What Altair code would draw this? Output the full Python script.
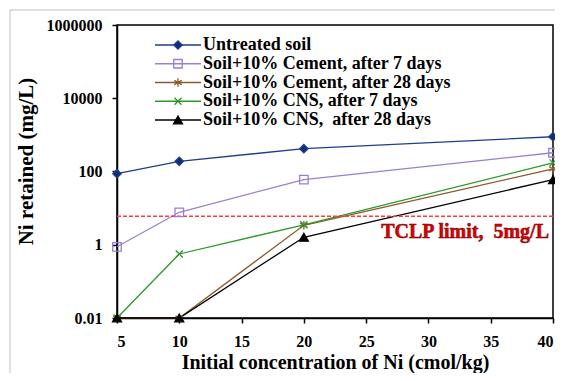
import altair as alt
import pandas as pd

x_vals = [5, 10, 20, 40]
series = [
    "Untreated soil",
    "Soil+10% Cement, after 7 days",
    "Soil+10% Cement, after 28 days",
    "Soil+10% CNS, after 7 days",
    "Soil+10% CNS,\u00a0 after 28 days",
]
untreated = [87, 190, 420, 890]
cement_7 = [0.88, 7.7, 60, 325]
cement_28 = [0.01, 0.01, 3.4, 118]
cns_7 = [0.01, 0.56, 3.5, 172]
cns_28 = [0.01, 0.01, 1.6, 60]
all_vals = [untreated, cement_7, cement_28, cns_7, cns_28]

colors = ["#1F3D8A", "#9A7FD0", "#8B5A2B", "#2A9A2A", "#000000"]
fills = ["#0B2E7A", "transparent", "transparent", "transparent", "#000000"]
ASTER = "M0,-1L0,1M-0.87,-0.5L0.87,0.5M-0.87,0.5L0.87,-0.5"
XMARK = "M-0.8,-0.8L0.8,0.8M-0.8,0.8L0.8,-0.8"
shapes = ["diamond", "square", ASTER, XMARK, "triangle-up"]
sizes = [70, 80, 90, 120, 60]

tclp_limit = 6
y_ticks = [0.01, 1, 100, 10000, 1000000]
x_ticks = [5, 10, 15, 20, 25, 30, 35, 40]

rows = []
for s, vals in zip(series, all_vals):
    for xv, yv in zip(x_vals, vals):
        rows.append({"series": s, "x": xv, "y": yv})
df = pd.DataFrame(rows)

FONT = "Liberation Serif"

xenc = alt.X("x:Q", scale=alt.Scale(domain=[5, 40], nice=False),
             axis=alt.Axis(values=x_ticks, title="Initial concentration of Ni (cmol/kg)",
                           grid=False, tickSize=5, labelPadding=10, domainColor="black",
                           domainWidth=1.5, tickColor="black", tickWidth=1.5,
                           labelFont=FONT, labelFontSize=16, labelFontWeight="bold",
                           labelColor="black", titleFont=FONT, titleFontSize=20,
                           titleFontWeight="bold", titleColor="black",
                           titleX=218, titleY=50, titleBaseline="alphabetic",
                           titleAlign="center"))
yscale = alt.Scale(type="log", domain=[0.01, 1000000], nice=False)
yenc = alt.Y("y:Q", scale=yscale,
             axis=alt.Axis(values=y_ticks, format=".2~f", title="Ni retained (mg/L)",
                           grid=False, tickSize=5, labelPadding=10, domainColor="black",
                           domainWidth=1.5, tickColor="black", tickWidth=1.5,
                           labelFont=FONT, labelFontSize=16, labelFontWeight="bold",
                           labelColor="black", titleFont=FONT, titleFontSize=21,
                           titleFontWeight="bold", titleColor="black",
                           titleX=-91, titleY=136, titleAngle=-90,
                           titleBaseline="middle", titleAlign="center"))

color = alt.Color("series:N", scale=alt.Scale(domain=series, range=colors), legend=None)
fill = alt.Fill("series:N", scale=alt.Scale(domain=series, range=fills), legend=None)
shape = alt.Shape("series:N", scale=alt.Scale(domain=series, range=shapes), legend=None)
size = alt.Size("series:N", scale=alt.Scale(domain=series, range=sizes), legend=None)

base = alt.Chart(df)
lines = base.mark_line(strokeWidth=1.3).encode(x=xenc, y=yenc, color=color, detail="series:N")
points = base.mark_point(filled=False, strokeWidth=1.3, opacity=1).encode(
    x="x:Q", y=alt.Y("y:Q", scale=yscale), color=color, fill=fill, shape=shape, size=size)

lim_df = pd.DataFrame({"y": [tclp_limit]})
limit = alt.Chart(lim_df).mark_rule(color="#FF3B3B", strokeWidth=1.5, strokeDash=[4, 2]).encode(
    y=alt.Y("y:Q", scale=yscale))

lbl_df = pd.DataFrame({"t": ["TCLP limit,\u00a0 5mg/L"]})
label = alt.Chart(lbl_df).mark_text(font=FONT, fontSize=20, fontWeight="bold", color="#E00000",
                                     stroke="#700000", strokeWidth=0.5,
                                     align="right", baseline="middle").encode(
    text="t:N", x=alt.value(432), y=alt.value(207))

main = alt.layer(lines, limit, points, label)

# legend
leg_df = pd.DataFrame({"series": series, "idx": list(range(len(series)))})
ly = alt.Y("idx:Q", scale=alt.Scale(domain=[0, 4], range=[20, 95], nice=False, zero=False), axis=None)
lbase = alt.Chart(leg_df)
leg_lines = lbase.mark_rule(strokeWidth=1.3).encode(
    x=alt.value(38), x2=alt.value(84), y=ly, color=color)
leg_pts = lbase.mark_point(filled=False, strokeWidth=1.3, opacity=1).encode(
    x=alt.value(61), y=ly, color=color, fill=fill, shape=shape, size=size)
leg_txt = lbase.mark_text(font=FONT, fontSize=18, fontWeight="bold", color="black",
                          align="left", baseline="middle", dx=0).encode(
    x=alt.value(86), y=ly, text="series:N")
legend = alt.layer(leg_lines, leg_pts, leg_txt)

frame_df = pd.DataFrame({"a": [0]})
frame = alt.Chart(frame_df).mark_rect(fill="transparent", stroke="#C0C0C0", strokeWidth=1).encode(
    x=alt.value(-107), x2=alt.value(460), y=alt.value(-15), y2=alt.value(420))

chart = alt.layer(frame, main, legend).resolve_scale(y="independent").properties(
    width=436, height=293,
    autosize=alt.AutoSizeParams(type="none"),
    padding={"left": 109, "top": 17, "right": 2, "bottom": 55},
).configure_view(stroke="black", strokeWidth=1.5)

chart.save("out.html", embed_options={"renderer": "svg", "actions": False})
